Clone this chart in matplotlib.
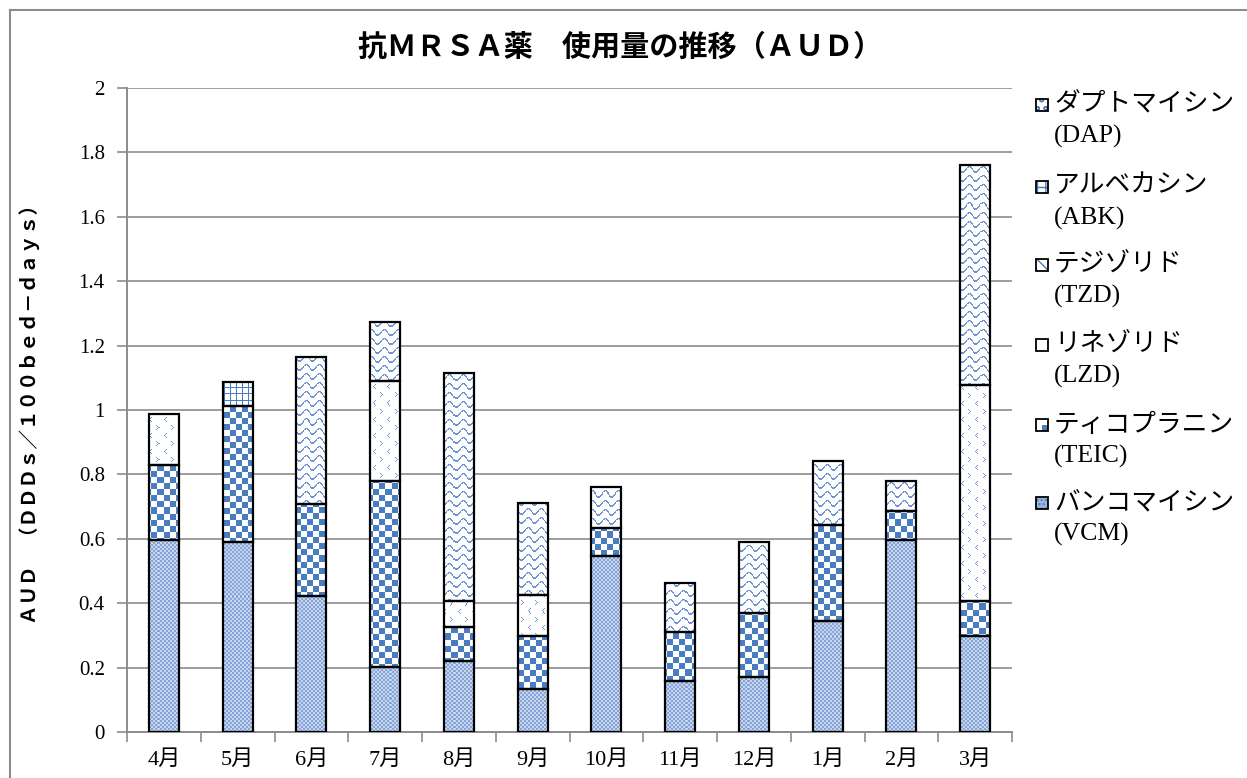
import numpy as np
import matplotlib
matplotlib.use('Agg')
import matplotlib.pyplot as plt
from matplotlib.patches import Rectangle
from matplotlib.lines import Line2D

plt.rcParams['font.family'] = ['Liberation Serif', 'Noto Sans CJK JP']

months = ['4月', '5月', '6月', '7月', '8月', '9月', '10月', '11月', '12月', '1月', '2月', '3月']

# AUD (DDDs/100bed-days), stacked bottom -> top
vcm = [0.596, 0.591, 0.422, 0.202, 0.220, 0.135, 0.547, 0.157, 0.170, 0.346, 0.596, 0.298]
teic = [0.233, 0.421, 0.286, 0.578, 0.107, 0.163, 0.087, 0.154, 0.201, 0.298, 0.091, 0.110]
lzd = [0.158, 0, 0, 0.311, 0.081, 0.128, 0, 0, 0, 0, 0, 0.670]
tzd = [0, 0, 0, 0, 0, 0, 0, 0, 0, 0, 0, 0]
abk = [0, 0.075, 0, 0, 0, 0, 0, 0, 0, 0, 0, 0]
dap = [0, 0, 0.457, 0.182, 0.708, 0.286, 0.128, 0.153, 0.219, 0.197, 0.092, 0.684]

drug_names = ['バンコマイシン', 'ティコプラニン', 'リネゾリド', 'テジゾリド', 'アルベカシン', 'ダプトマイシン']
drug_codes = ['VCM', 'TEIC', 'LZD', 'TZD', 'ABK', 'DAP']

BLUE = '#4a7dc0'
GRID = '#8c8c8c'

W_FIG, H_FIG = 1247, 778
L, B, R, T = 127, 732, 1012, 88   # axes box in pixels


def hex2rgb(h):
    h = h.lstrip('#')
    return np.array([int(h[i:i + 2], 16) for i in (0, 2, 4)], dtype=np.uint8)


def texture(kind, h, w):
    yy, xx = np.mgrid[0:h, 0:w]
    img = np.full((h, w, 3), 255, dtype=np.uint8)
    if kind == 'VCM':
        m = ((xx // 2 + yy // 2) % 2) == 0
        img[:] = hex2rgb('#c6d5ee')
        img[m] = hex2rgb('#86a4d6')
    elif kind == 'TEIC':
        m = ((xx // 6 + yy // 6) % 2) == 0
        img[m] = hex2rgb(BLUE)
    elif kind == 'LZD':
        tile = np.zeros((16, 14), dtype=bool)
        for (r, c) in [(0, 0), (1, 1), (2, 2), (3, 1), (4, 0)]:      # >
            tile[1 + r, 1 + c] = True
        for (r, c) in [(0, 2), (1, 1), (2, 0), (3, 1), (4, 2)]:      # <
            tile[9 + r, 8 + c] = True
        m = tile[yy % 16, xx % 14]
        img[m] = hex2rgb('#6f96d0')
    elif kind == 'DAP':
        off = 2.8 * np.sin(2 * np.pi * xx / 13.0)
        m = np.mod(yy - off, 9) < 1.7
        img[m] = hex2rgb('#6f96d0')
    elif kind == 'ABK':
        m = (xx % 6 == 0) | (yy % 6 == 0)
        img[m] = hex2rgb(BLUE)
    elif kind == 'TZD':
        m = ((xx - yy) % 6) < 2
        img[m] = hex2rgb(BLUE)
    return img


fig = plt.figure(figsize=(W_FIG / 100, H_FIG / 100), dpi=100)
ax = fig.add_axes([L / W_FIG, 1 - B / H_FIG, (R - L) / W_FIG, (B - T) / H_FIG])
ax.set_xlim(-0.5, len(months) - 0.5)
ax.set_ylim(0, 2)

aw, ah = R - L, B - T
textures = {k: texture(k, ah, aw) for k in drug_codes}

x = np.arange(len(months))
series = [vcm, teic, lzd, tzd, abk, dap]
bottom = np.zeros(len(months))
for code, vals in zip(drug_codes, series):
    vals = np.array(vals)
    bars = ax.bar(x, vals, 0.41, bottom=bottom, facecolor='white', edgecolor='none', zorder=2)
    for rect, v in zip(bars, vals):
        if v <= 0:
            rect.set_visible(False)
            continue
        im = ax.imshow(textures[code], extent=(-0.5, len(months) - 0.5, 0, 2),
                       aspect='auto', interpolation='nearest', zorder=2.5)
        im.set_clip_path(rect)
    outl = ax.bar(x, vals, 0.41, bottom=bottom, facecolor='none', edgecolor='black',
                  linewidth=1.6, zorder=3)
    for rect, v in zip(outl, vals):
        if v <= 0:
            rect.set_visible(False)
    bottom = bottom + vals

ax.set_xlim(-0.5, len(months) - 0.5)
ax.set_ylim(0, 2)

ax.set_yticks(np.arange(0, 2.01, 0.2))
ax.set_yticklabels([f'{v:g}' for v in np.arange(0, 2.01, 0.2).round(1)])
ax.yaxis.grid(True, color=GRID, linewidth=1.2)
ax.set_axisbelow(True)
ax.tick_params(axis='y', length=7, width=1.2, color=GRID, pad=9, labelsize=15)

ax.set_xticks(x)
ax.set_xticklabels(months)
ax.set_xticks(np.arange(-0.5, len(months), 1.0), minor=True)
ax.tick_params(axis='x', which='major', length=0, pad=13, labelsize=16)
ax.tick_params(axis='x', which='minor', length=7, width=1.2, color=GRID)

for s in ['top', 'right']:
    ax.spines[s].set_visible(False)
for s in ['left', 'bottom']:
    ax.spines[s].set_color(GRID)
    ax.spines[s].set_linewidth(1.4)

ax.set_ylabel('ＡＵＤ　（ＤＤＤｓ／１００ｂｅｄ－ｄａｙｓ）', fontsize=14, fontweight='bold')
ax.yaxis.set_label_coords((40 - L) / aw, 0.5)

fig.text(620 / W_FIG, 1 - 48 / H_FIG, '抗ＭＲＳＡ薬　使用量の推移（ＡＵＤ）',
         ha='center', va='center', fontsize=21, fontweight='bold')

# legend (top entry = top of stack)
leg_y = [105, 187, 265, 345, 425, 503]
for i, (name, code) in enumerate(zip(drug_names[::-1], drug_codes[::-1])):
    y = leg_y[i]
    s = 12
    bx, by = 1036 / W_FIG, 1 - (y + s / 2) / H_FIG
    bw, bh = s / W_FIG, s / H_FIG
    fc = {'DAP': 'white', 'ABK': 'white', 'TZD': 'white', 'LZD': 'white',
          'TEIC': 'white', 'VCM': '#9db6df'}[code]
    hatch = {'DAP': 'oo', 'ABK': '++', 'TZD': '\\\\\\', 'LZD': '', 'TEIC': '', 'VCM': '....'}[code]
    fig.patches.append(Rectangle((bx, by), bw, bh, transform=fig.transFigure,
                                 facecolor=fc, edgecolor=BLUE, hatch=hatch, linewidth=0))
    if code == 'TEIC':
        fig.patches.append(Rectangle((bx + bw / 2, by), bw / 2, bh / 2, transform=fig.transFigure,
                                     facecolor=BLUE, edgecolor='none'))
    fig.patches.append(Rectangle((bx, by), bw, bh, transform=fig.transFigure,
                                 facecolor='none', edgecolor='black', linewidth=1.3))
    fig.text(1054 / W_FIG, 1 - y / H_FIG, name, ha='left', va='center', fontsize=18.5)
    fig.text(1054 / W_FIG, 1 - (y + 31) / H_FIG, f'({code})', ha='left', va='center', fontsize=18.5)

# outer chart frame (left and top edges visible)
fig.lines.append(Line2D([10 / W_FIG, 10 / W_FIG], [0, 1 - 10 / H_FIG],
                        transform=fig.transFigure, color=GRID, linewidth=1.5))
fig.lines.append(Line2D([10 / W_FIG, 1], [1 - 10 / H_FIG, 1 - 10 / H_FIG],
                        transform=fig.transFigure, color=GRID, linewidth=1.5))

fig.savefig('out.png', dpi=100, facecolor='white')
